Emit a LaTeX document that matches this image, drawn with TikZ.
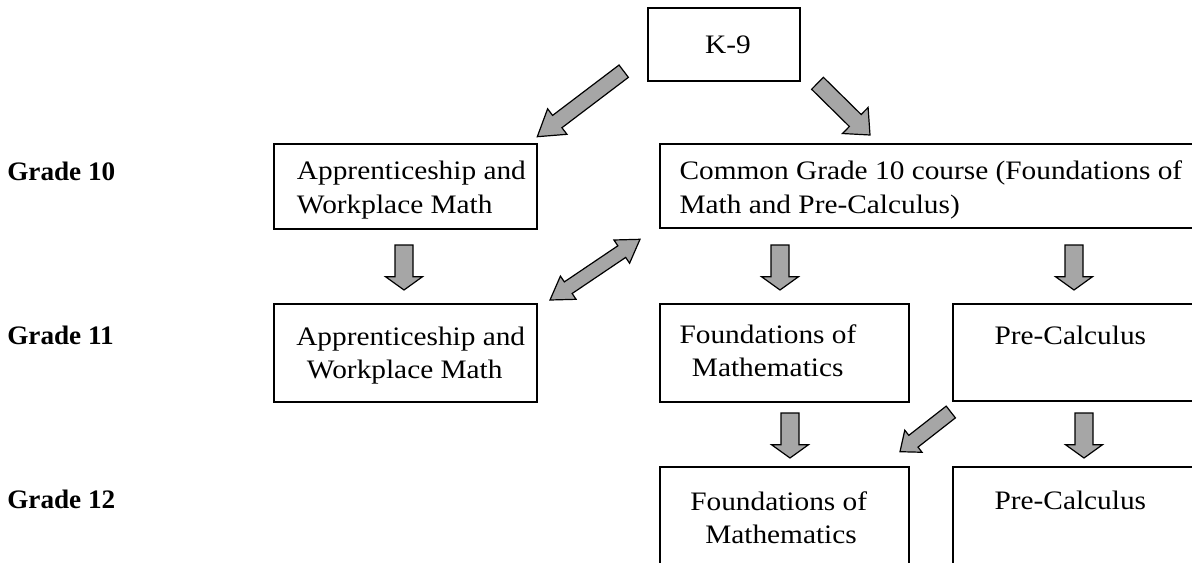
\documentclass[tikz,border=0pt]{standalone}
\usepackage{fontspec}
\setmainfont{Liberation Serif}[FakeStretch=1.1, BoldFeatures={FakeStretch=1.02}]
\usetikzlibrary{calc}
\tikzset{
  box/.style={draw, line width=1.5pt, inner sep=0pt, outer sep=0pt, rectangle},
  lbl/.style={font=\fontsize{20pt}{24pt}\selectfont, inner sep=0pt, anchor=base west},
  glbl/.style={lbl, font=\fontsize{20pt}{24pt}\selectfont\bfseries},
  barrow/.style={draw=black, fill=arrgray, line width=0.9pt, line join=miter},
}
\definecolor{arrgray}{HTML}{A6A6A6}
% #1 tail, #2 tip, #3 shaft half width, #4 head half width, #5 head length
\newcommand\blockarr[5]{%
  \path ($(#2)!#5!(#1)$) coordinate (bam);
  \draw[barrow] ($(#1)!#3!90:(#2)$) -- ($(bam)!#3!90:(#2)$) -- ($(bam)!#4!90:(#2)$)
     -- (#2) -- ($(bam)!#4!-90:(#2)$) -- ($(bam)!#3!-90:(#2)$) -- ($(#1)!#3!-90:(#2)$) -- cycle;
}
% double-headed: #1 end A, #2 end B
\newcommand\dblarr[5]{%
  \path ($(#2)!#5!(#1)$) coordinate (bma) ($(#1)!#5!(#2)$) coordinate (bmb);
  \draw[barrow] ($(bmb)!#3!90:(#2)$) -- ($(bma)!#3!90:(#2)$) -- ($(bma)!#4!90:(#2)$)
     -- (#2) -- ($(bma)!#4!-90:(#2)$) -- ($(bma)!#3!-90:(#2)$) -- ($(bmb)!#3!-90:(#2)$)
     -- ($(bmb)!#4!-90:(#2)$) -- (#1) -- ($(bmb)!#4!90:(#2)$) -- cycle;
}
\begin{document}
\begin{tikzpicture}[x=0.75pt, y=-0.75pt]
\useasboundingbox (0,0) rectangle (1192,563);
\clip (0,0) rectangle (1192,563);
\fill[white] (0,0) rectangle (1192,563);

% boxes
\node[box, minimum width=114pt, minimum height=54.75pt] (k9) at (724,44.5) {};
\node[box, minimum width=197.25pt, minimum height=63.75pt] (app10) at (405.5,186.5) {};
\node[box, minimum width=427.5pt, minimum height=63pt] (com10) at (945,186) {};
\node[box, minimum width=197.25pt, minimum height=73.5pt] (app11) at (405.5,353) {};
\node[box, minimum width=186.4pt, minimum height=73.3pt] (fnd11) at (784.75,352.85) {};
\node[box, minimum width=208pt, minimum height=72.75pt] (pre11) at (1091.35,352.5) {};
\node[box, minimum width=186.4pt, minimum height=99.4pt] (fnd12) at (784.75,533.75) {};
\node[box, minimum width=208pt, minimum height=99.4pt] (pre12) at (1091.35,533.65) {};

% row labels
\node[glbl] (g10) at (7,180.7) {Grade 10};
\node[glbl] (g11) at (7,344) {Grade 11};
\node[glbl] (g12) at (7,508) {Grade 12};

% texts
\node[lbl, anchor=base] (k9t) at (728,53.3) {K-9};
\node[lbl] (app10a) at (296.7,180) {Apprenticeship and};
\node[lbl] (app10b) at (296.7,213.3) {Workplace Math};
\node[lbl] (com10a) at (679.3,180) {Common Grade 10 course (Foundations of};
\node[lbl] (com10b) at (679.3,213.3) {Math and Pre-Calculus)};
\node[lbl] (app11a) at (296,345) {Apprenticeship and};
\node[lbl] (app11b) at (306.7,378.3) {Workplace Math};
\node[lbl] (fnd11a) at (679.3,343.3) {Foundations of};
\node[lbl] (fnd11b) at (691.7,376.7) {Mathematics};
\node[lbl] (pre11t) at (994.3,344) {Pre-Calculus};
\node[lbl] (fnd12a) at (690,510) {Foundations of};
\node[lbl] (fnd12b) at (705,543.3) {Mathematics};
\node[lbl] (pre12t) at (994.3,509.3) {Pre-Calculus};

% arrow end points
\coordinate (aL-t) at (623.7,71.2);  \coordinate (aL-h) at (537.3,136.7);
\coordinate (aR-t) at (817.5,83.3);  \coordinate (aR-h) at (870,135);
\coordinate (v1-t) at (404,245);     \coordinate (v1-h) at (404,290);
\coordinate (v2-t) at (780,245);     \coordinate (v2-h) at (780,290);
\coordinate (v3-t) at (1074,245);    \coordinate (v3-h) at (1074,290);
\coordinate (v4-t) at (790,413);     \coordinate (v4-h) at (790,458);
\coordinate (v5-t) at (1084,413);    \coordinate (v5-h) at (1084,458);
\coordinate (dd-a) at (550,300);     \coordinate (dd-b) at (640,239.3);
\coordinate (dg-t) at (950.8,412);   \coordinate (dg-h) at (900,451.7);

\blockarr{aL-t}{aL-h}{5.8pt}{12pt}{18.8pt}
\blockarr{aR-t}{aR-h}{6.3pt}{13.7pt}{15.5pt}
\blockarr{v1-t}{v1-h}{6.75pt}{13.9pt}{10pt}
\blockarr{v2-t}{v2-h}{6.75pt}{13.9pt}{10pt}
\blockarr{v3-t}{v3-h}{6.75pt}{13.9pt}{10pt}
\blockarr{v4-t}{v4-h}{6.75pt}{13.9pt}{10pt}
\blockarr{v5-t}{v5-h}{6.75pt}{13.9pt}{10pt}
\dblarr{dd-a}{dd-b}{5.25pt}{10.5pt}{16.5pt}
\blockarr{dg-t}{dg-h}{5.6pt}{10.5pt}{12.75pt}
\end{tikzpicture}
\end{document}
